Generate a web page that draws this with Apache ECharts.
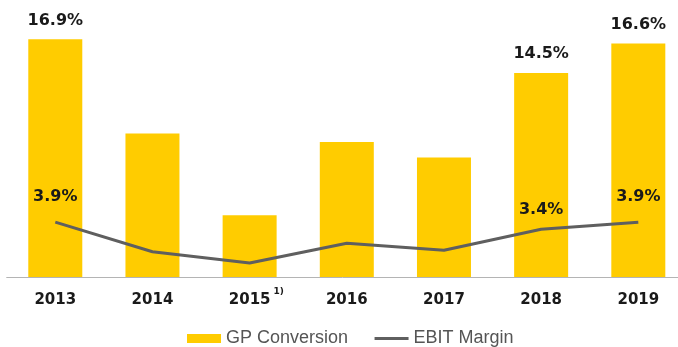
<!DOCTYPE html>
<html>
<head>
<meta charset="utf-8">
<script src="https://cdn.jsdelivr.net/npm/echarts@6/dist/echarts.min.js"></script>
<style>
  html, body { margin: 0; padding: 0; background: #fff; }
  #chart { width: 678px; height: 347px; }
</style>
</head>
<body>
<div id="chart"></div>
<script>
// Years shown on the category axis
const years = ['2013', '2014', '2015', '2016', '2017', '2018', '2019'];
// Gross profit conversion, % (bars)
const gpConversion = [16.9, 10.2, 4.4, 9.6, 8.5, 14.5, 16.6];
// EBIT margin, % (line)
const ebitMargin = [3.9, 1.8, 1.0, 2.4, 1.9, 3.4, 3.9];
// Which points carry a value label
const gpLabelled = [true, false, false, false, false, true, true];
const ebitLabelled = [true, false, false, false, false, true, true];
const ebitLabelGap = [17, 0, 0, 0, 0, 11, 17];
// Year with a footnote marker
const footnoteYear = '2015';
const footnoteMark = '1)';

const YELLOW = '#FFCC00';
const GREY = '#5f5f5f';
const labelFont = { fontFamily: 'DejaVu Sans', fontWeight: 'bold', fontSize: 16, color: '#1a1a1a' };

const barData = gpConversion.map((v, i) => ({
  value: v,
  label: { show: gpLabelled[i] }
}));
const lineData = ebitMargin.map((v, i) => ({
  value: v,
  label: { show: ebitLabelled[i], distance: ebitLabelGap[i] }
}));

const chart = echarts.init(document.getElementById('chart'));
chart.setOption({
  animation: false,
  backgroundColor: '#ffffff',
  grid: { left: 6.7, width: 680.2, top: 0, bottom: 70, containLabel: false, outerBoundsMode: 'none' },
  legend: {
    left: 182,
    top: 324.5,
    itemWidth: 34,
    itemHeight: 9,
    itemGap: 25,
    textStyle: { fontFamily: 'Liberation Sans', fontSize: 18, color: '#555555' },
    data: [
      { name: 'GP Conversion', icon: 'rect' },
      { name: 'EBIT Margin', itemStyle: { opacity: 0 }, lineStyle: { width: 3, color: GREY } }
    ]
  },
  xAxis: {
    type: 'category',
    data: years,
    axisLine: { show: true, lineStyle: { color: '#b4b4b4', width: 1 } },
    axisTick: { show: false },
    axisLabel: {
      interval: 0,
      margin: 10.5,
      lineHeight: 25,
      fontFamily: 'DejaVu Sans',
      fontWeight: 'bold',
      fontSize: 15,
      color: '#1a1a1a',
      formatter: (v) => v === footnoteYear ? '{pad|' + footnoteMark + '}' + v + '{sup|' + footnoteMark + '}' : v,
      rich: {
        pad: { fontSize: 9, lineHeight: 9, color: 'transparent', padding: [0, 3, 0, 0] },
        sup: { fontSize: 9, lineHeight: 9, color: '#1a1a1a', fontFamily: 'DejaVu Sans', verticalAlign: 'top', padding: [0, 0, 0, 3] }
      }
    }
  },
  yAxis: {
    type: 'value',
    min: 0,
    max: 19.7,
    show: false,
    splitLine: { show: false }
  },
  series: [
    {
      name: 'GP Conversion',
      type: 'bar',
      data: barData,
      barWidth: 54,
      itemStyle: { color: YELLOW },
      label: Object.assign({ position: 'top', distance: 11, formatter: (p) => p.value.toFixed(1) + '%' }, labelFont)
    },
    {
      name: 'EBIT Margin',
      type: 'line',
      data: lineData,
      symbol: 'circle',
      symbolSize: 0,
      showSymbol: true,
      lineStyle: { color: GREY, width: 3 },
      itemStyle: { color: GREY },
      label: Object.assign({ position: 'top', formatter: (p) => p.value.toFixed(1) + '%' }, labelFont)
    }
  ]
});
</script>
</body>
</html>
